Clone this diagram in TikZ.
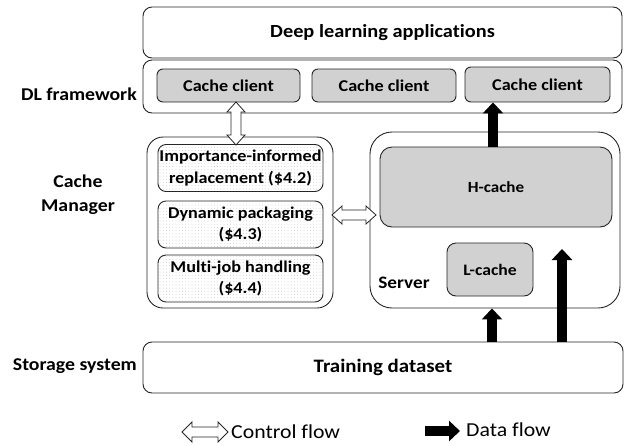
\documentclass[tikz,border=0pt]{standalone}
\usepackage{fontspec}
\setmainfont{Carlito}[FakeStretch=1.1, Ligatures=NoCommon]
\usetikzlibrary{arrows.meta,patterns.meta,calc}

% double-headed hollow arrow between two points
\newcommand\ctrlarrow[3][9pt]{%
  \draw[ctrl] let \p1=($(#3)-(#2)$), \n1={veclen(\x1,\y1)}, \n2={atan2(\y1,\x1)} in
    [shift={(#2)}, rotate=\n2]
    (0pt,0pt) -- (10pt,#1) -- (10pt,5pt) -- ({\n1-10pt},5pt) -- ({\n1-10pt},#1)
    -- ({\n1*1pt},0pt) -- ({\n1-10pt},-#1) -- ({\n1-10pt},-5pt) -- (10pt,-5pt)
    -- (10pt,-#1) -- cycle;}
\newcommand\fsz[2]{\fontsize{#1}{#2}\selectfont}

\begin{document}
\begin{tikzpicture}[x=1pt,y=-1pt,
  font=\fsz{16.5}{20}\bfseries,
  layer/.style={draw=black!85, line width=0.9pt, rounded corners=9pt, fill=white,
    inner sep=0pt, minimum width=#1},
  client/.style={draw=black!85, line width=0.9pt, rounded corners=6pt, fill=black!18,
    inner sep=0pt, minimum width=#1},
  module/.style={draw=black!85, line width=0.9pt, rounded corners=8pt,
    postaction={pattern={Dots[distance=3.2pt,radius=0.35pt]}, pattern color=black!35},
    fill=white, inner sep=0pt, minimum width=165pt, minimum height=47pt, align=center,
    font=\fsz{16.5}{21.5}\bfseries},
  group/.style={draw=black!85, line width=0.9pt, rounded corners=#1, fill=white, inner sep=0pt},
  side/.style={inner sep=0pt, align=center, font=\fsz{18}{24}\bfseries},
  legend/.style={anchor=west, inner sep=0pt, font=\fsz{19.8}{23}},
  ctrl/.style={draw=black!85, line width=0.8pt, fill=white},
  data/.style={line width=10pt, -{Triangle[width=20pt,length=11pt]}},
]
\useasboundingbox (0,0) rectangle (624,445);

% layers
\node[layer=479pt, minimum height=51pt, font=\fsz{18.5}{22}\bfseries] (app) at (382.5,32.5) {Deep learning applications};
\node[layer=479pt, minimum height=53pt] (fw) at (382.5,86.5) {};
\node[client=143pt, minimum height=33pt] (cc1) at (228.5,85.5) {Cache client};
\node[client=144pt, minimum height=33pt] (cc2) at (384,85.5) {Cache client};
\node[client=145pt, minimum height=35pt] (cc3) at (537.5,84.5) {Cache client};
\node[layer=480pt, minimum height=51pt, font=\fsz{19}{22}\bfseries] (dat) at (383,367.5) {Training dataset};

% cache manager
\node[group=16pt, minimum width=186pt, minimum height=171pt] (cm) at (240,222.5) {};
\node[module] (imp) at (240.5,168) {Importance-informed\\replacement (\$4.2)};
\node[module] (dyn) at (240.5,224.5) {Dynamic packaging\\(\$4.3)};
\node[module] (mj) at (240.5,278.5) {Multi-job handling\\(\$4.4)};

% server
\node[group=22pt, minimum width=250pt, minimum height=176pt] (srv) at (495,220) {};
\node[client=232pt, minimum height=80pt, rounded corners=12pt, font=\fsz{15.5}{19}\bfseries] (hc) at (496,187) {H-cache};
\node[client=86pt, minimum height=53pt, rounded corners=9pt, font=\fsz{16}{19}\bfseries] (lc) at (490,269.5) {L-cache};
\node[side, font=\fsz{17.5}{20}\bfseries] (srvlbl) at (404,283) {Server};

% side labels
\node[side, anchor=east] (lfw) at (137,94) {DL framework};
\node[side] (lcm) at (78,195) {Cache\\Manager};
\node[side, anchor=east] (lst) at (137,366) {Storage system};

% control flow
\coordinate (ccb) at (236,102);
\coordinate (impt) at (236,145);
\ctrlarrow{ccb}{impt}
\coordinate (cmr) at (332,215);
\coordinate (srvl) at (376,215);
\ctrlarrow{cmr}{srvl}

% data flow
\coordinate (rtip) at (562,249);
\draw[data] (hc.north -| 493,0) -- (cc3.south -| 493,0);
\draw[data] (dat.north -| 492,0) -- (srv.south -| 492,0);
\draw[data] (dat.north -| rtip) -- (rtip);

% legend
\coordinate (la) at (182,432);
\coordinate (lb) at (228,432);
\ctrlarrow[10pt]{la}{lb}
\node[legend] (lctrl) at (231,432) {Control flow};
\coordinate (da) at (425,431);
\coordinate (db) at (460,431);
\draw[data] (da) -- (db);
\node[legend] (ldata) at (466,430) {Data flow};
\end{tikzpicture}
\end{document}
